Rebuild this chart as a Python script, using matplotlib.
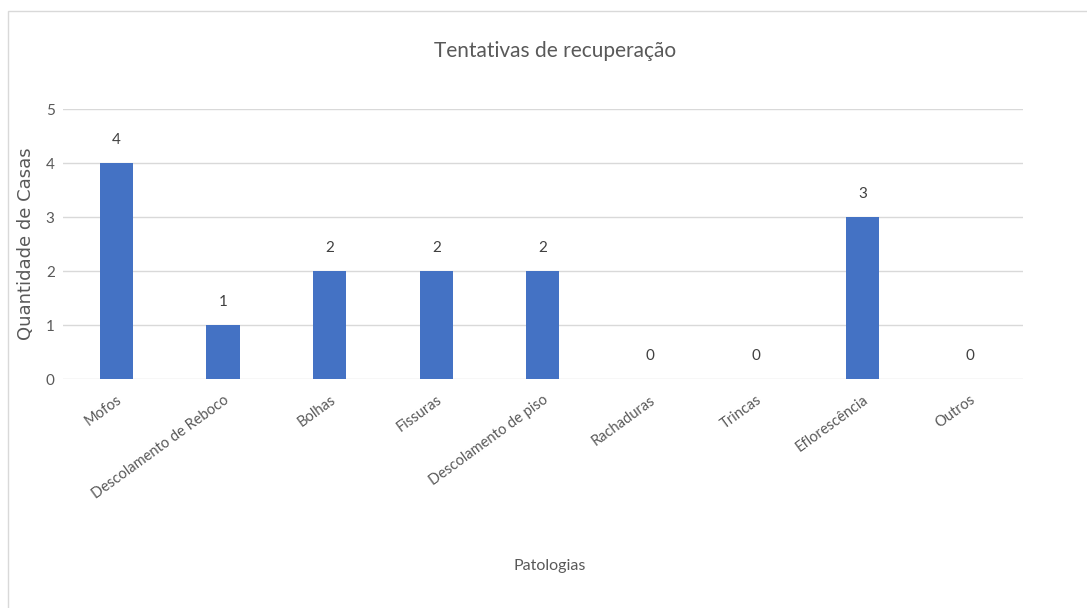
import matplotlib.pyplot as plt
from matplotlib.patches import Rectangle

categorias = ["Mofos", "Descolamento de Reboco", "Bolhas", "Fissuras",
              "Descolamento de piso", "Rachaduras", "Trincas",
              "Eflorescência", "Outros"]
quantidade = [4, 1, 2, 2, 2, 0, 0, 3, 0]

plt.rcParams['font.family'] = ['Lato', 'DejaVu Sans']

fig = plt.figure(figsize=(10.87, 6.08), dpi=100)
ax = fig.add_axes([0.058, 0.3766, 0.883, 0.4441])

x = range(len(categorias))
ax.bar(x, quantidade, width=0.31, color='#4472C4', zorder=3)

# rotulos de dados acima das barras
for xi, v in zip(x, quantidade):
    ax.text(xi, v + 0.3, str(v), ha='center', va='bottom',
            fontsize=11, color='#404040')

ax.set_xlim(-0.5, len(categorias) - 0.5)
ax.set_ylim(0, 5)
ax.set_yticks(range(6))
ax.yaxis.grid(True, color='#D9D9D9', linewidth=1)
ax.set_axisbelow(True)
for s in ax.spines.values():
    s.set_visible(False)
ax.tick_params(length=0, colors='#595959', labelsize=11)
ax.tick_params(axis='y', pad=6)
ax.set_xticks(list(x))
ax.set_xticklabels(categorias, rotation=36, ha='right', rotation_mode='anchor',
                   fontsize=10.5)
ax.tick_params(axis='x', pad=10)

ax.set_ylabel("Quantidade de Casas", fontsize=13, color='#595959',
              labelpad=8, family=['DejaVu Sans'])
fig.text(555 / 1087, 1 - 51 / 608, "Tentativas de recuperação", ha='center',
         va='center', fontsize=15, color='#595959')
fig.text(550 / 1087, 1 - 566 / 608, "Patologias", ha='center', va='center',
         fontsize=11.5, color='#595959')

fig.patches.append(Rectangle((8 / 1087, -0.01), 1.02, 1 - 11 / 608 + 0.01,
                             transform=fig.transFigure, fill=False,
                             edgecolor='#D9D9D9', linewidth=1))

fig.savefig("out.png", dpi=100)
